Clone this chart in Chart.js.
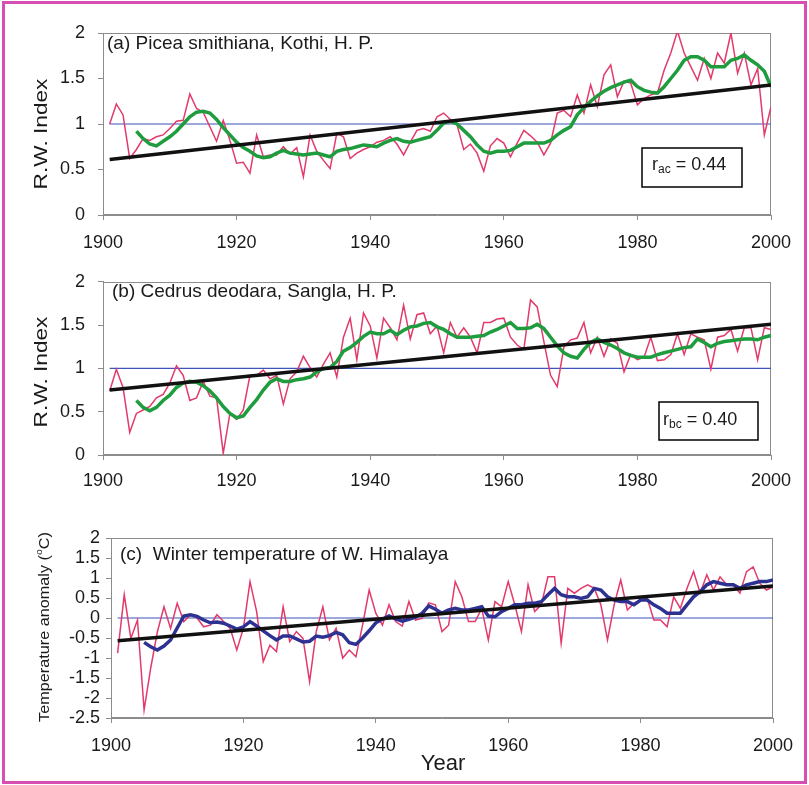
<!DOCTYPE html>
<html>
<head>
<meta charset="utf-8">
<title>Ring-width indices and winter temperature</title>
<script src="https://cdn.jsdelivr.net/npm/chart.js@4.4.1/dist/chart.umd.min.js"></script>
<style>
  html, body { margin: 0; padding: 0; background: #fff; }
  #page { position: relative; width: 809px; height: 785px; overflow: hidden; background: #fff; }
  #page canvas { position: absolute; left: 0; }
  #frame { position: absolute; left: 2px; top: 1px; width: 805px; height: 783px;
           box-sizing: border-box; border: 3px solid #d84fb3; pointer-events: none; }
</style>
</head>
<body>
<div id="page">
  <canvas id="chartA" width="809" height="262" style="top:0px"></canvas>
  <canvas id="chartB" width="809" height="252" style="top:258px"></canvas>
  <canvas id="chartC" width="809" height="280" style="top:505px"></canvas>
  <div id="frame"></div>
</div>
<script>
// Años de las series anuales y de las medias suavizadas
const FIRST_YEAR = 1901;
const FIRST_SMOOTH_YEAR = 1905;
const xTicks = [1900, 1920, 1940, 1960, 1980, 2000];

// (a) Picea smithiana, Kothi - índice anual (1901-2000)
const rwKothi = [
  1.00, 1.22, 1.10, 0.62, 0.72, 0.84, 0.82, 0.86, 0.88, 0.95,
  1.03, 1.04, 1.33, 1.17, 1.13, 0.97, 0.81, 1.04, 0.82, 0.57,
  0.58, 0.46, 0.88, 0.64, 0.66, 0.66, 0.75, 0.67, 0.74, 0.42,
  0.88, 0.70, 0.60, 0.51, 0.90, 0.86, 0.62, 0.68, 0.72, 0.75,
  0.80, 0.82, 0.86, 0.78, 0.66, 0.80, 0.93, 0.95, 0.92, 1.08,
  1.12, 1.05, 0.99, 0.72, 0.78, 0.68, 0.48, 0.76, 0.84, 0.79,
  0.64, 0.79, 0.93, 0.87, 0.80, 0.66, 0.79, 1.12, 1.15, 1.08,
  1.32, 1.12, 1.43, 1.19, 1.54, 1.65, 1.30, 1.47, 1.45, 1.21,
  1.28, 1.32, 1.34, 1.59, 1.78, 2.02, 1.78, 1.63, 1.48, 1.72,
  1.50, 1.78, 1.67, 2.00, 1.56, 1.78, 1.43, 1.61, 0.88, 1.19
];
// (a) curva suavizada (1905-2000)
const rwKothiSmooth = [
  0.92, 0.84, 0.78, 0.76, 0.81, 0.86, 0.92, 1.00, 1.08, 1.13,
  1.14, 1.12, 1.05, 0.96, 0.88, 0.80, 0.74, 0.70, 0.65, 0.63,
  0.64, 0.68, 0.71, 0.68, 0.67, 0.66, 0.67, 0.68, 0.66, 0.64,
  0.70, 0.72, 0.73, 0.75, 0.77, 0.76, 0.75, 0.79, 0.82, 0.84,
  0.81, 0.80, 0.82, 0.84, 0.86, 0.93, 1.01, 1.03, 1.00, 0.93,
  0.86, 0.77, 0.70, 0.68, 0.70, 0.70, 0.71, 0.75, 0.79, 0.79,
  0.79, 0.79, 0.82, 0.88, 0.93, 0.97, 1.10, 1.18, 1.25, 1.31,
  1.36, 1.40, 1.43, 1.46, 1.48, 1.41, 1.37, 1.35, 1.34, 1.41,
  1.50, 1.59, 1.70, 1.74, 1.74, 1.70, 1.63, 1.63, 1.63, 1.70,
  1.72, 1.76, 1.70, 1.65, 1.58, 1.41
];

// (b) Cedrus deodara, Sangla - índice anual (1901-2000)
const rwSangla = [
  0.74, 0.99, 0.78, 0.26, 0.48, 0.52, 0.56, 0.66, 0.70, 0.83,
  1.03, 0.92, 0.63, 0.66, 0.85, 0.68, 0.66, 0.02, 0.48, 0.41,
  0.52, 0.92, 0.92, 0.98, 0.88, 0.92, 0.59, 0.88, 0.96, 1.14,
  1.01, 0.90, 1.05, 1.18, 0.90, 1.36, 1.58, 1.10, 1.64, 1.49,
  1.12, 1.58, 1.47, 1.33, 1.73, 1.34, 1.62, 1.64, 1.40, 1.49,
  1.18, 1.53, 1.36, 1.47, 1.36, 1.18, 1.53, 1.53, 1.57, 1.58,
  1.36, 1.27, 1.22, 1.79, 1.71, 1.31, 0.92, 0.79, 1.25, 1.33,
  1.35, 1.53, 1.18, 1.36, 1.14, 1.34, 1.29, 0.96, 1.16, 1.10,
  1.13, 1.36, 1.09, 1.10, 1.16, 1.40, 1.16, 1.40, 1.36, 1.33,
  0.99, 1.36, 1.38, 1.45, 1.20, 1.47, 1.47, 1.10, 1.47, 1.45
];
// (b) curva suavizada (1905-2000)
const rwSanglaSmooth = [
  0.63, 0.55, 0.51, 0.55, 0.63, 0.69, 0.78, 0.83, 0.85, 0.84,
  0.80, 0.74, 0.66, 0.56, 0.48, 0.43, 0.45, 0.55, 0.64, 0.75,
  0.84, 0.88, 0.85, 0.85, 0.87, 0.88, 0.90, 0.96, 1.00, 1.01,
  1.08, 1.20, 1.24, 1.30, 1.37, 1.42, 1.40, 1.40, 1.44, 1.39,
  1.44, 1.48, 1.49, 1.52, 1.53, 1.48, 1.45, 1.40, 1.36, 1.36,
  1.36, 1.37, 1.38, 1.42, 1.45, 1.49, 1.53, 1.46, 1.46, 1.47,
  1.51, 1.46, 1.36, 1.26, 1.18, 1.14, 1.12, 1.22, 1.30, 1.34,
  1.30, 1.27, 1.23, 1.18, 1.15, 1.13, 1.13, 1.13, 1.16, 1.18,
  1.20, 1.22, 1.24, 1.25, 1.34, 1.30, 1.25, 1.29, 1.31, 1.32,
  1.33, 1.34, 1.34, 1.33, 1.36, 1.38
];

// (c) Anomalía de temperatura invernal, W. Himalaya (1901-2000)
const tempWinter = [
  -0.88, 0.58, -0.51, -0.05, -2.30, -1.25, -0.35, 0.28, -0.26, 0.37,
  -0.09, 0.08, 0.00, -0.22, -0.18, 0.08, -0.09, -0.26, -0.80, -0.26,
  0.91, 0.16, -1.09, -0.68, -0.84, 0.28, -0.59, -0.34, -0.51, -1.59,
  -0.34, 0.28, -0.55, -0.26, -1.00, -0.80, -0.97, -0.18, 0.70, 0.12,
  -0.18, 0.33, -0.09, -0.20, 0.41, -0.05, -0.01, 0.38, 0.33, -0.34,
  -0.18, 0.91, 0.53, -0.09, -0.09, 0.24, -0.55, 0.41, 0.28, 0.91,
  0.33, -0.34, 0.83, 0.16, 0.33, 1.03, 1.03, -0.63, 0.74, 0.62,
  0.74, 0.83, 0.74, 0.33, -0.55, 0.33, 0.95, 0.20, 0.37, 0.45,
  0.49, -0.05, -0.05, -0.22, 0.53, 0.24, 0.74, 1.16, 0.62, 1.08,
  0.70, 1.03, 0.83, 0.83, 0.62, 1.16, 1.28, 0.87, 0.70, 0.78
];
// (c) curva suavizada (1905-2000)
const tempWinterSmooth = [
  -0.61, -0.72, -0.80, -0.70, -0.55, -0.25, 0.05, 0.08, 0.04, -0.05,
  -0.12, -0.10, -0.13, -0.20, -0.28, -0.22, -0.09, -0.20, -0.32, -0.44,
  -0.55, -0.45, -0.45, -0.52, -0.60, -0.58, -0.45, -0.48, -0.44, -0.36,
  -0.42, -0.62, -0.66, -0.50, -0.32, -0.12, -0.03, 0.05, -0.02, -0.08,
  -0.03, 0.02, 0.12, 0.30, 0.22, 0.12, 0.20, 0.24, 0.20, 0.20,
  0.24, 0.28, 0.05, 0.03, 0.16, 0.24, 0.33, 0.33, 0.37, 0.37,
  0.41, 0.58, 0.74, 0.58, 0.53, 0.53, 0.49, 0.53, 0.74, 0.70,
  0.53, 0.45, 0.41, 0.41, 0.33, 0.45, 0.45, 0.33, 0.24, 0.12,
  0.12, 0.12, 0.33, 0.53, 0.66, 0.83, 0.91, 0.87, 0.83, 0.83,
  0.74, 0.83, 0.87, 0.91, 0.91, 0.95
];

// Tendencias lineales (extremos) y líneas de referencia
const trendYears = [1901, 2000];
const trendKothi = [0.61, 1.43];
const trendSangla = [0.75, 1.51];
const trendTemp = [-0.57, 0.80];
const refKothi = [1.0, 1.0];
const refSangla = [1.0, 1.0];
const refTemp = [0.0, 0.0];

const FONT = 'Liberation Sans, Arial, Helvetica, sans-serif';
const colors = {
    red: '#e23a6a',
    green: '#1e9c3e',
    black: '#111111',
    refBlue: '#3d55b8',
    navy: '#2d3192',
    axis: '#8c8c8c',
    text: '#1a1a1a'
};

Chart.defaults.font.family = FONT;
Chart.defaults.color = colors.text;

function toPoints(values, startYear) {
    return values.map((v, i) => ({ x: startYear + i, y: v }));
}

function pairPoints(xs, ys) {
    return xs.map((x, i) => ({ x: x, y: ys[i] }));
}

function lineSet(data, color, width) {
    return {
        data: data,
        borderColor: color,
        backgroundColor: color,
        borderWidth: width,
        pointRadius: 0,
        tension: 0,
        fill: false
    };
}

// Dibuja un texto formado por trozos (para subíndices y superíndices)
function drawParts(ctx, parts, x, y, opt) {
    ctx.save();
    ctx.translate(x, y);
    if (opt.rot) ctx.rotate(opt.rot);
    if (opt.sx) ctx.scale(opt.sx, 1);
    ctx.fillStyle = colors.text;
    ctx.textBaseline = 'alphabetic';
    ctx.textAlign = 'left';
    let total = 0;
    parts.forEach(p => {
        ctx.font = p.size + 'px ' + FONT;
        total += ctx.measureText(p.t).width;
    });
    let cx = opt.align === 'center' ? -total / 2 : 0;
    parts.forEach(p => {
        ctx.font = p.size + 'px ' + FONT;
        ctx.fillText(p.t, cx, p.dy || 0);
        cx += ctx.measureText(p.t).width;
    });
    ctx.restore();
}

// Marco del área de trazado, títulos y recuadros de correlación
const decorPlugin = {
    id: 'decor',
    beforeDatasetsDraw(chart) {
        const { ctx, chartArea: a } = chart;
        ctx.save();
        ctx.strokeStyle = colors.axis;
        ctx.lineWidth = 1;
        ctx.strokeRect(Math.round(a.left) + 0.5, Math.round(a.top) + 0.5,
            Math.round(a.right - a.left) - 1, Math.round(a.bottom - a.top) - 1);
        ctx.restore();
    },
    afterDraw(chart) {
        const ctx = chart.ctx;
        const o = chart.options.plugins.decor;
        (o.labels || []).forEach(l => drawParts(ctx, l.parts, l.x, l.y, l));
        if (o.box) {
            const b = o.box;
            ctx.save();
            ctx.strokeStyle = '#000';
            ctx.lineWidth = 1.5;
            ctx.strokeRect(b.x, b.y, b.w, b.h);
            ctx.restore();
            drawParts(ctx, b.parts, b.tx, b.ty, {});
        }
    }
};

function makePanel(id, cfg) {
    const ctx = document.getElementById(id).getContext('2d');
    return new Chart(ctx, {
        type: 'line',
        data: { datasets: cfg.datasets },
        plugins: [decorPlugin],
        options: {
            responsive: false,
            devicePixelRatio: 1,
            animation: false,
            events: [],
            layout: { padding: cfg.padding },
            plugins: {
                legend: { display: false },
                tooltip: { enabled: false },
                decor: cfg.decor
            },
            scales: {
                x: {
                    type: 'linear',
                    min: 1900,
                    max: 2000,
                    afterFit: s => { s.height = cfg.xHeight; },
                    afterBuildTicks: s => { s.ticks = xTicks.map(v => ({ value: v })); },
                    ticks: {
                        padding: cfg.xPad,
                        autoSkip: false,
                        maxRotation: 0,
                        font: { size: 18 },
                        color: colors.text,
                        callback: v => String(v)
                    },
                    grid: { drawOnChartArea: false, drawTicks: true, tickLength: 5, color: colors.axis },
                    border: { display: true, color: colors.axis, width: 1 }
                },
                y: {
                    min: cfg.yMin,
                    max: cfg.yMax,
                    afterFit: s => { s.width = cfg.yWidth; },
                    ticks: {
                        stepSize: 0.5,
                        padding: cfg.yPad,
                        autoSkip: false,
                        font: { size: 18 },
                        color: colors.text,
                        callback: v => String(Math.round(v * 10) / 10)
                    },
                    grid: { drawOnChartArea: false, drawTicks: true, tickLength: 5, color: colors.axis },
                    border: { display: true, color: colors.axis, width: 1 }
                }
            }
        }
    });
}

const rwTitle = [{ t: 'R.W. Index', size: 18 }];

// (a) Kothi
makePanel('chartA', {
    padding: { left: 0, right: 38, top: 33, bottom: 0 },
    yWidth: 103, xHeight: 47, xPad: 12, yPad: 13, yMin: 0, yMax: 2,
    datasets: [
        lineSet(pairPoints(trendYears, trendKothi), colors.black, 3.5),
        lineSet(toPoints(rwKothiSmooth, FIRST_SMOOTH_YEAR), colors.green, 3.5),
        lineSet(toPoints(rwKothi, FIRST_YEAR), colors.red, 1.5),
        lineSet(pairPoints(trendYears, refKothi), colors.refBlue, 1.2)
    ],
    decor: {
        labels: [
            { parts: [{ t: '(a) Picea smithiana, Kothi, H. P.', size: 19 }], x: 107, y: 49 },
            { parts: rwTitle, x: 47, y: 134, rot: -Math.PI / 2, sx: 1.26, align: 'center' }
        ],
        box: {
            x: 642, y: 148, w: 100, h: 39, tx: 652, ty: 170,
            parts: [{ t: 'r', size: 18 }, { t: 'ac', size: 12, dy: 3 }, { t: ' = 0.44', size: 18 }]
        }
    }
});

// (b) Sangla
makePanel('chartB', {
    padding: { left: 0, right: 38, top: 16, bottom: 0 },
    yWidth: 103, xHeight: 55, xPad: 10, yPad: 13, yMin: 0, yMax: 2,
    datasets: [
        lineSet(pairPoints(trendYears, trendSangla), colors.black, 3.5),
        lineSet(toPoints(rwSanglaSmooth, FIRST_SMOOTH_YEAR), colors.green, 3.5),
        lineSet(toPoints(rwSangla, FIRST_YEAR), colors.red, 1.5),
        lineSet(pairPoints(trendYears, refSangla), colors.refBlue, 1.2)
    ],
    decor: {
        labels: [
            { parts: [{ t: '(b) Cedrus deodara, Sangla, H. P.', size: 19 }], x: 112, y: 39 },
            { parts: rwTitle, x: 47, y: 114, rot: -Math.PI / 2, sx: 1.26, align: 'center' }
        ],
        box: {
            x: 659, y: 144, w: 99, h: 38, tx: 663, ty: 167,
            parts: [{ t: 'r', size: 18 }, { t: 'bc', size: 12, dy: 3 }, { t: ' = 0.40', size: 18 }]
        }
    }
});

// (c) Temperatura invernal
makePanel('chartC', {
    padding: { left: 0, right: 36, top: 33, bottom: 0 },
    yWidth: 111, xHeight: 67, xPad: 12, yPad: 6, yMin: -2.5, yMax: 2,
    datasets: [
        lineSet(pairPoints(trendYears, trendTemp), colors.black, 3.5),
        lineSet(toPoints(tempWinterSmooth, FIRST_SMOOTH_YEAR), colors.navy, 3.5),
        lineSet(toPoints(tempWinter, FIRST_YEAR), colors.red, 1.5),
        lineSet(pairPoints(trendYears, refTemp), colors.refBlue, 1.2)
    ],
    decor: {
        labels: [
            { parts: [{ t: '(c)  Winter temperature of W. Himalaya', size: 19 }], x: 120, y: 55 },
            {
                parts: [
                    { t: 'Temperature anomaly (', size: 14 },
                    { t: 'o', size: 9, dy: -7 },
                    { t: 'C)', size: 14 }
                ],
                x: 49, y: 122, rot: -Math.PI / 2, sx: 1.16, align: 'center'
            },
            { parts: [{ t: 'Year', size: 22 }], x: 443, y: 265, align: 'center' }
        ]
    }
});
</script>
</body>
</html>
